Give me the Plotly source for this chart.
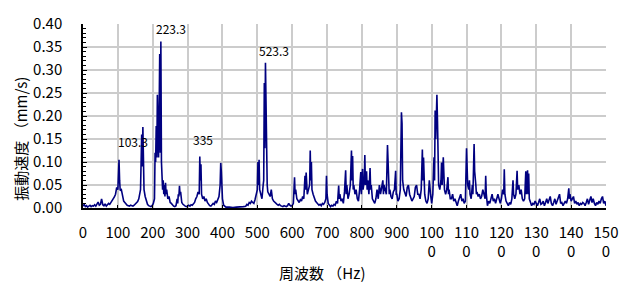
import plotly.graph_objects as go

# --- data ---
freq = [0,3.3,6.7,10,13.3,16.7,20,23.3,26.7,30,33.3,36.7,40,43.3,46.7,50,53.3,56.7,60,63.3,66.7,70,73.3,76.7,80,83.3,86.7,90,93.3,96.7,
        100,103.3,105,106.7,110,113.3,116.7,120,123.3,126.7,130,133.3,136.7,140,143.3,146.7,150,153.3,156.7,160,163.3,165,168.3,170,171.7,173.3,175,178.3,181.7,185,188.3,191.7,195,198.3,
        201.7,205,206.7,208.3,210,211.7,213.3,215,216.7,218.3,220,221.7,223.3,225,226.7,228.3,230,231.7,233.3,235,236.7,238.3,240,243.3,246.7,250,253.3,256.7,260,263.3,266.7,270,271.7,273.3,275,276.7,278.3,280,283.3,286.7,290,293.3,296.7,
        300,303.3,306.7,310,313.3,316.7,320,323.3,326.7,330,333.3,335,336.7,338.3,340,343.3,346.7,350,353.3,356.7,360,363.3,366.7,370,373.3,376.7,380,383.3,386.7,390,393.3,395,396.7,398.3,
        400,403.3,406.7,410,420,430,440,450,460,466.7,470,473.3,476.7,480,483.3,486.7,490,493.3,496.7,
        500,501.7,503.3,505,506.7,510,513.3,516.7,518.3,520,521.7,523.3,525,526.7,528.3,530,533.3,536.7,540,543.3,546.7,550,553.3,556.7,560,563.3,566.7,570,573.3,576.7,580,583.3,586.7,590,593.3,596.7,
        600,603.3,606.7,608.3,610,613.3,616.7,620,623.3,626.7,630,633.3,636.7,638.3,640,643.3,646.7,650,651.7,653.3,655,656.7,660,663.3,666.7,670,673.3,676.7,680,683.3,686.7,690,693.3,696.7,698.3,
        700,703.3,706.7,710,713.3,716.7,720,723.3,726.7,730,733.3,735,736.7,740,743.3,746.7,750,753.3,755,756.7,760,763.3,766.7,770,771.7,773.3,775,776.7,780,783.3,786.7,790,793.3,796.7,798.3,
        800,801.7,803.3,806.7,808.3,810,813.3,815,816.7,820,823.3,825,826.7,830,833.3,836.7,840,843.3,846.7,850,853.3,856.7,860,861.7,863.3,866.7,870,873.3,875,876.7,878.3,880,883.3,886.7,890,893.3,896.7,898.3,
        900,903.3,906.7,910,911.7,913.3,915,916.7,920,923.3,926.7,930,933.3,936.7,940,943.3,946.7,950,953.3,956.7,960,963.3,966.7,970,973.3,975,976.7,978.3,980,983.3,986.7,990,993.3,996.7,
        1000,1003.3,1006.7,1008.3,1010,1011.7,1013.3,1015,1016.7,1018.3,1020,1023.3,1026.7,1028.3,1030,1033.3,1035,1036.7,1040,1043.3,1046.7,1048.3,1050,1053.3,1056.7,1060,1063.3,1066.7,1070,1073.3,1076.7,1080,1083.3,1086.7,1090,1093.3,1096.7,
        1100,1101.7,1103.3,1106.7,1108.3,1110,1113.3,1116.7,1118.3,1121.7,1123.3,1126.7,1128.3,1130,1133.3,1136.7,1140,1143.3,1146.7,1150,1153.3,1155,1156.7,1160,1163.3,1166.7,1170,1173.3,1176.7,1180,1183.3,1186.7,1190,1193.3,1196.7,
        1200,1203.3,1206.7,1208.3,1210,1213.3,1216.7,1220,1223.3,1226.7,1230,1233.3,1235,1238.3,1241.7,1245,1246.7,1250,1253.3,1256.7,1260,1263.3,1266.7,1270,1271.7,1273.3,1275,1276.7,1278.3,1280,1283.3,1286.7,1290,1293.3,1296.7,
        1300,1303.3,1306.7,1310,1313.3,1316.7,1320,1323.3,1326.7,1330,1333.3,1336.7,1340,1343.3,1346.7,1350,1353.3,1356.7,1360,1363.3,1366.7,1370,1373.3,1376.7,1380,1383.3,1386.7,1390,1393.3,1395,1396.7,
        1400,1403.3,1406.7,1410,1413.3,1416.7,1420,1423.3,1426.7,1430,1433.3,1436.7,1440,1443.3,1446.7,1450,1453.3,1456.7,1460,1463.3,1466.7,1470,1473.3,1476.7,1480,1483.3,1486.7,1490,1493.3,1496.7,1500]

velocity = [0.004,0.008,0.003,0.005,0.002,0.004,0.006,0.003,0.005,0.004,0.007,0.004,0.010,0.013,0.006,0.008,0.020,0.007,0.005,0.009,0.004,0.006,0.010,0.008,0.012,0.015,0.018,0.024,0.030,0.045,
        0.040,0.105,0.060,0.038,0.040,0.025,0.015,0.012,0.008,0.006,0.005,0.004,0.006,0.005,0.004,0.006,0.008,0.010,0.014,0.020,0.030,0.040,0.160,0.090,0.176,0.060,0.040,0.025,0.015,0.008,0.005,0.004,0.003,0.005,
        0.010,0.020,0.120,0.100,0.178,0.110,0.246,0.130,0.110,0.200,0.335,0.120,0.362,0.100,0.070,0.040,0.060,0.030,0.050,0.025,0.055,0.030,0.040,0.020,0.025,0.012,0.010,0.006,0.004,0.003,0.005,0.020,0.010,0.030,0.025,0.048,0.030,0.035,0.012,0.008,0.005,0.004,0.003,
        0.005,0.006,0.004,0.007,0.006,0.010,0.012,0.020,0.025,0.035,0.030,0.112,0.060,0.095,0.030,0.020,0.025,0.015,0.020,0.012,0.008,0.005,0.004,0.006,0.010,0.008,0.015,0.012,0.018,0.025,0.050,0.098,0.080,0.040,
        0.020,0.006,0.003,0.002,0.002,0.001,0.002,0.002,0.003,0.004,0.008,0.006,0.012,0.010,0.015,0.012,0.010,0.018,0.030,
        0.040,0.100,0.050,0.105,0.040,0.030,0.020,0.050,0.060,0.272,0.130,0.316,0.160,0.120,0.050,0.035,0.030,0.025,0.040,0.020,0.015,0.012,0.010,0.008,0.006,0.008,0.005,0.004,0.003,0.005,0.004,0.003,0.005,0.010,0.006,0.004,
        0.005,0.010,0.067,0.030,0.040,0.020,0.015,0.012,0.018,0.015,0.025,0.020,0.070,0.040,0.077,0.030,0.040,0.050,0.125,0.060,0.100,0.040,0.030,0.020,0.015,0.012,0.010,0.006,0.008,0.005,0.010,0.008,0.012,0.020,0.070,
        0.030,0.010,0.005,0.003,0.006,0.004,0.008,0.006,0.015,0.010,0.049,0.020,0.030,0.015,0.020,0.010,0.035,0.082,0.030,0.050,0.020,0.030,0.050,0.125,0.060,0.113,0.040,0.050,0.030,0.040,0.020,0.015,0.040,0.078,0.030,
        0.050,0.085,0.040,0.060,0.115,0.050,0.080,0.040,0.060,0.030,0.087,0.040,0.050,0.020,0.015,0.010,0.020,0.040,0.020,0.050,0.030,0.047,0.060,0.030,0.050,0.040,0.030,0.137,0.080,0.060,0.030,0.040,0.025,0.020,0.035,0.040,0.081,0.030,
        0.030,0.015,0.020,0.040,0.109,0.208,0.184,0.060,0.040,0.030,0.025,0.045,0.050,0.030,0.020,0.015,0.020,0.025,0.045,0.050,0.030,0.030,0.020,0.040,0.127,0.060,0.110,0.040,0.030,0.015,0.010,0.020,0.060,0.030,
        0.010,0.030,0.110,0.060,0.212,0.150,0.200,0.246,0.190,0.080,0.050,0.040,0.060,0.099,0.050,0.110,0.060,0.040,0.030,0.040,0.067,0.030,0.040,0.020,0.020,0.030,0.015,0.020,0.010,0.005,0.015,0.025,0.030,0.015,0.020,0.010,0.015,
        0.130,0.080,0.050,0.040,0.060,0.030,0.020,0.050,0.030,0.139,0.080,0.050,0.030,0.035,0.025,0.030,0.020,0.025,0.040,0.030,0.020,0.070,0.030,0.005,0.015,0.010,0.020,0.030,0.015,0.020,0.010,0.020,0.030,0.020,0.010,
        0.020,0.040,0.030,0.084,0.030,0.015,0.010,0.005,0.012,0.008,0.020,0.060,0.030,0.020,0.030,0.081,0.040,0.050,0.030,0.040,0.020,0.015,0.020,0.080,0.030,0.060,0.082,0.030,0.075,0.020,0.010,0.005,0.010,0.008,0.015,
        0.010,0.005,0.012,0.020,0.008,0.010,0.015,0.005,0.012,0.020,0.010,0.018,0.025,0.010,0.005,0.012,0.020,0.008,0.015,0.020,0.030,0.010,0.012,0.005,0.010,0.015,0.010,0.020,0.043,0.020,0.030,
        0.015,0.020,0.025,0.010,0.015,0.008,0.012,0.005,0.010,0.008,0.012,0.010,0.005,0.012,0.020,0.008,0.015,0.025,0.012,0.020,0.010,0.005,0.012,0.008,0.015,0.010,0.020,0.025,0.010,0.015,0.005]

x_tick_vals = [0,100,200,300,400,500,600,700,800,900,1000,1100,1200,1300,1400,1500]
x_tick_text = ["0","100","200","300","400","500","600","700","800","900",
               "100<br>0","110<br>0","120<br>0","130<br>0","140<br>0","150<br>0"]
y_tick_vals = [0,0.05,0.10,0.15,0.20,0.25,0.30,0.35,0.40]
y_tick_text = ["0.00","0.05","0.10","0.15","0.20","0.25","0.30","0.35","0.40"]

peak_freqs = [103.3, 223.3, 335, 523.3]
peak_vals = [0.105, 0.362, 0.112, 0.316]
peak_labels = ["103.3", "223.3", "335", "523.3"]

FONT = "Noto Sans CJK JP, Liberation Sans, sans-serif"

fig = go.Figure()
fig.add_trace(go.Scatter(x=freq, y=velocity, mode="lines",
                         line=dict(color="#000080", width=1.6),
                         showlegend=False, hoverinfo="skip"))

shifts = [(14, 8), (10, 2), (3, 6), (9, 2)]
for f, v, t, (dx, dy) in zip(peak_freqs, peak_vals, peak_labels, shifts):
    fig.add_annotation(x=f, y=v, text=t, showarrow=False, xref="x", yref="y",
                       xanchor="center", yanchor="bottom", xshift=dx, yshift=dy,
                       font=dict(family=FONT, size=12, color="#000000"))

fig.add_annotation(text="周波数 （Hz)", xref="paper", yref="paper", x=0.457, y=-0.351,
                   xanchor="center", yanchor="middle", showarrow=False,
                   font=dict(family=FONT, size=15, color="#000000"))
fig.add_annotation(text="振動速度 （mm/s)", xref="paper", yref="paper", x=-0.12, y=0.378,
                   xanchor="center", yanchor="middle", textangle=-90, showarrow=False,
                   font=dict(family=FONT, size=15, color="#000000"))

fig.update_layout(
    width=630, height=287,
    margin=dict(l=83, r=13, t=20, b=79),
    paper_bgcolor="white", plot_bgcolor="white",
    font=dict(family=FONT, size=15, color="#000000"),
)
fig.update_xaxes(range=[0, 1500], tickvals=x_tick_vals, ticktext=x_tick_text,
                 showgrid=True, gridcolor="#cccccc", gridwidth=1.5,
                 showline=True, linecolor="black", linewidth=1.5,
                 ticks="inside", ticklen=3, tickcolor="black",
                 ticklabelstandoff=10, zeroline=False, fixedrange=True)
fig.update_yaxes(range=[0, 0.40], tickvals=y_tick_vals, ticktext=y_tick_text,
                 showgrid=True, gridcolor="#cccccc", gridwidth=1.5,
                 showline=True, linecolor="black", linewidth=1.5,
                 ticks="inside", ticklen=4, tickcolor="black",
                 minor=dict(ticks="inside", dtick=0.01, ticklen=3, tickcolor="black", showgrid=False),
                 ticklabelstandoff=16, zeroline=False, fixedrange=True)

fig.write_html("out.html", config={"displayModeBar": False},
               post_script="document.body.style.margin='0';")
